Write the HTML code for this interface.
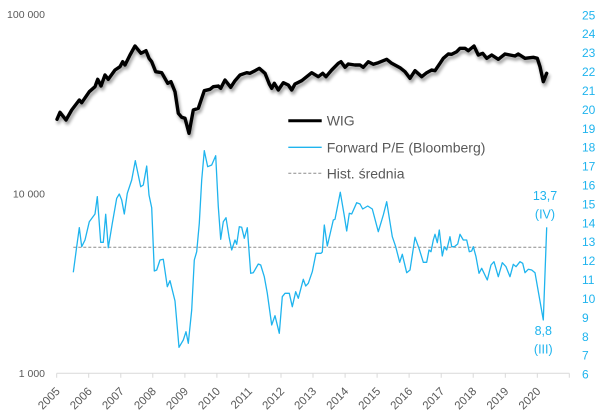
<!DOCTYPE html>
<html><head><meta charset="utf-8"><style>
html,body{margin:0;padding:0;background:#fff;}
svg{display:block;}
text{font-family:"Liberation Sans",sans-serif;}
</style></head><body>
<svg width="606" height="416" viewBox="0 0 606 416" xmlns="http://www.w3.org/2000/svg">
<defs>
<filter id="sh" x="-10%" y="-20%" width="120%" height="150%">
<feGaussianBlur in="SourceAlpha" stdDeviation="1.6"/>
<feOffset dx="1.5" dy="3" result="b"/>
<feComponentTransfer><feFuncA type="linear" slope="0.4"/></feComponentTransfer>
<feMerge><feMergeNode/><feMergeNode in="SourceGraphic"/></feMerge>
</filter>
</defs>
<rect width="606" height="416" fill="#fff"/>

<!-- left axis labels -->
<g fill="#595959" font-size="10.5" text-anchor="end">
<text x="45" y="17.8">100 000</text>
<text x="45" y="197.4">10 000</text>
<text x="45" y="377">1 000</text>
</g>

<!-- right axis labels -->
<g fill="#1fb4ee" font-size="12">
<text x="582" y="19.3">25</text>
<text x="582" y="38.2">24</text>
<text x="582" y="57.1">23</text>
<text x="582" y="76">22</text>
<text x="582" y="94.9">21</text>
<text x="582" y="113.9">20</text>
<text x="582" y="132.8">19</text>
<text x="582" y="151.7">18</text>
<text x="582" y="170.6">17</text>
<text x="582" y="189.5">16</text>
<text x="582" y="208.4">15</text>
<text x="582" y="227.3">14</text>
<text x="582" y="246.2">13</text>
<text x="582" y="265.1">12</text>
<text x="582" y="284">11</text>
<text x="582" y="303">10</text>
<text x="582" y="321.9">9</text>
<text x="582" y="340.8">8</text>
<text x="582" y="359.7">7</text>
<text x="582" y="378.6">6</text>
</g>

<!-- x axis -->
<g stroke="#d9d9d9" stroke-width="1" fill="none">
<line x1="56.7" y1="373.3" x2="569.3" y2="373.3"/>
<path d="M56.7 373.3v4.5M88.7 373.3v4.5M120.8 373.3v4.5M152.8 373.3v4.5M184.9 373.3v4.5M216.9 373.3v4.5M248.9 373.3v4.5M281 373.3v4.5M313 373.3v4.5M345.1 373.3v4.5M377.1 373.3v4.5M409.1 373.3v4.5M441.2 373.3v4.5M473.2 373.3v4.5M505.3 373.3v4.5M537.3 373.3v4.5M569.3 373.3v4.5"/>
</g>
<g fill="#595959" font-size="11.5" text-anchor="end">
<text transform="translate(60.7 392) rotate(-45)">2005</text>
<text transform="translate(92.7 392) rotate(-45)">2006</text>
<text transform="translate(124.8 392) rotate(-45)">2007</text>
<text transform="translate(156.8 392) rotate(-45)">2008</text>
<text transform="translate(188.9 392) rotate(-45)">2009</text>
<text transform="translate(220.9 392) rotate(-45)">2010</text>
<text transform="translate(252.9 392) rotate(-45)">2011</text>
<text transform="translate(285 392) rotate(-45)">2012</text>
<text transform="translate(317 392) rotate(-45)">2013</text>
<text transform="translate(349.1 392) rotate(-45)">2014</text>
<text transform="translate(381.1 392) rotate(-45)">2015</text>
<text transform="translate(413.1 392) rotate(-45)">2016</text>
<text transform="translate(445.2 392) rotate(-45)">2017</text>
<text transform="translate(477.2 392) rotate(-45)">2018</text>
<text transform="translate(509.3 392) rotate(-45)">2019</text>
<text transform="translate(541.3 392) rotate(-45)">2020</text>
</g>

<!-- hist avg dashed -->
<line x1="73.3" y1="247.3" x2="546.7" y2="247.3" stroke="#8c8c8c" stroke-width="1" stroke-dasharray="3,2"/>

<!-- P/E line -->
<polyline fill="none" stroke="#1fb4ee" stroke-width="1.3" stroke-linejoin="round" points="73.3,272.3 76.7,246.7 79.3,227.7 81.7,246.7 85,240 89.3,221.7 95,214 97.3,196.7 100.7,242.3 103.3,242.3 105.7,214.3 108.3,247.7 112.3,223.3 116.7,198.3 119.3,194 121.7,200 124.3,214 127.3,193.3 131.7,180 135.3,160.7 140.7,186.7 143.3,185 146.7,166 149,195 151.7,207.7 154.3,271 156.7,270 160,260 163.3,259.3 167.3,286.7 170,280.7 175,301 179,347.3 183.3,340 186,331.7 188.3,343.3 191.7,310 194.3,260 196.7,251.7 199.3,223.3 201.7,180 204.3,150.7 207.7,166.7 211.7,165 215.7,155.7 218.3,206.7 220.7,239.3 223.3,221.7 226,217.7 229,236.7 231.7,250 235,240 236.7,244.3 239.3,226.7 241.7,227.3 244.3,238.3 247.3,227.7 250.7,273.3 253.3,272.7 258.3,264 260.7,265 264.3,276.7 267.3,293.3 271.7,325 275,315.7 279.3,333.3 282.3,296.7 285,293.3 289.3,293.3 292.3,306.7 295.7,291.7 298.3,298.3 303.3,279.3 305.7,286 308.3,283.3 312.3,271.7 316,253.3 321,253.3 322.3,252 324.3,225 327.3,246 333.3,220 335,219.3 340.3,192.3 344,214 346.7,231 349.3,213.3 351.7,214 356.7,202.7 360,204 362.7,209 367.7,206 372.3,209 378.3,231.7 383.3,215 386.7,201.7 392.3,236.7 395.7,246.7 399.7,262.3 402.3,254.3 406.7,272.7 410,270 415,237.3 419,248.3 423.3,262.3 426.7,262.3 429,250 431,251.7 433.3,240 435,234.3 437.3,242.7 439.3,230 442.3,256 444.3,246.7 446.7,250 450,236.7 451.7,246.7 454.3,246.7 457.7,244 460,234.3 463.3,240 466.7,240 469.3,251.7 471.7,251 473.3,246.7 476,256.7 479,273.3 481.7,268.3 487.3,280 491,265 494,261.7 498.3,276.7 502.3,262.7 506,266.7 510,276.7 513.3,264.3 516,266.7 520,261.7 522.7,263.3 525,272.7 528.3,269.3 531.7,270 535,272.7 543.3,320 546.7,227.3"/>

<!-- WIG line -->
<polyline filter="url(#sh)" fill="none" stroke="#000" stroke-width="3.4" stroke-linejoin="round" stroke-linecap="round" points="57,119.3 60,112.3 66,120 71.7,110 79.3,100 81.7,102.7 89.3,91.7 95,86.7 97.7,79.3 101,86 105,75 108.3,79.3 115,70 120,66.7 122.7,61.7 125,65 130,55 135,46 141,53.3 146,50.7 149,58.3 151.7,61.7 155.7,71.7 161.7,72.7 167.7,83.3 171,81.7 175,91.7 178.3,113.3 181.7,117.3 185,118.3 189,133.3 193.3,110 198.3,108.3 204.3,90.7 210,89.3 213.3,86.7 218.3,86 220.7,88.3 225,80 230.7,87.3 235,80.7 240,75 246.7,72.7 250,73.3 255,70.7 259.3,68.3 265,73.3 269.3,84 271.7,88.3 274.3,83.3 278.3,90 283.3,82.7 288.3,85 291.7,90 295,84 301.7,80.7 306.7,76.7 311.7,72.7 318.3,76.7 322.7,73.3 326,76.7 331.7,70 338.3,63.3 341,61.7 345,67.3 348.3,64 355,65 360,65 363.3,67.3 368.3,61.7 373.3,64.3 378.3,62.7 386.7,59.3 391.7,63.3 400,67.7 405,71.7 410,78.3 415,70.7 421.7,76.7 426.7,72.7 431.7,70 435,70.7 440,63.3 443.3,58.3 448.3,54 451.7,54.3 456.7,51.7 460,48.3 465,48.3 468.3,50.7 474,46 478.3,55 482.7,53.3 486.7,58.3 491.7,55 498.3,59.3 505,54 510,55 515,56 518.3,54 525,58.3 533.3,57.3 537.3,58.3 540,66.7 543.3,81.7 546.7,73.3"/>

<!-- legend -->
<line x1="288.3" y1="120.7" x2="321.7" y2="120.7" stroke="#000" stroke-width="3"/>
<line x1="288.3" y1="147.3" x2="321.7" y2="147.3" stroke="#1fb4ee" stroke-width="1.3"/>
<line x1="288.3" y1="173.3" x2="321.7" y2="173.3" stroke="#8c8c8c" stroke-width="1" stroke-dasharray="3,2"/>
<g fill="#595959" font-size="14">
<text x="326.7" y="125.7">WIG</text>
<text x="326.7" y="152.3">Forward P/E (Bloomberg)</text>
<text x="326.7" y="178.3">Hist. średnia</text>
</g>

<!-- annotations -->
<g fill="#1fb4ee" font-size="12.5" text-anchor="middle">
<text x="545" y="200">13,7</text>
<text x="545" y="218.6">(IV)</text>
<text x="543.3" y="335">8,8</text>
<text x="543.3" y="353.6">(III)</text>
</g>
</svg>
</body></html>
